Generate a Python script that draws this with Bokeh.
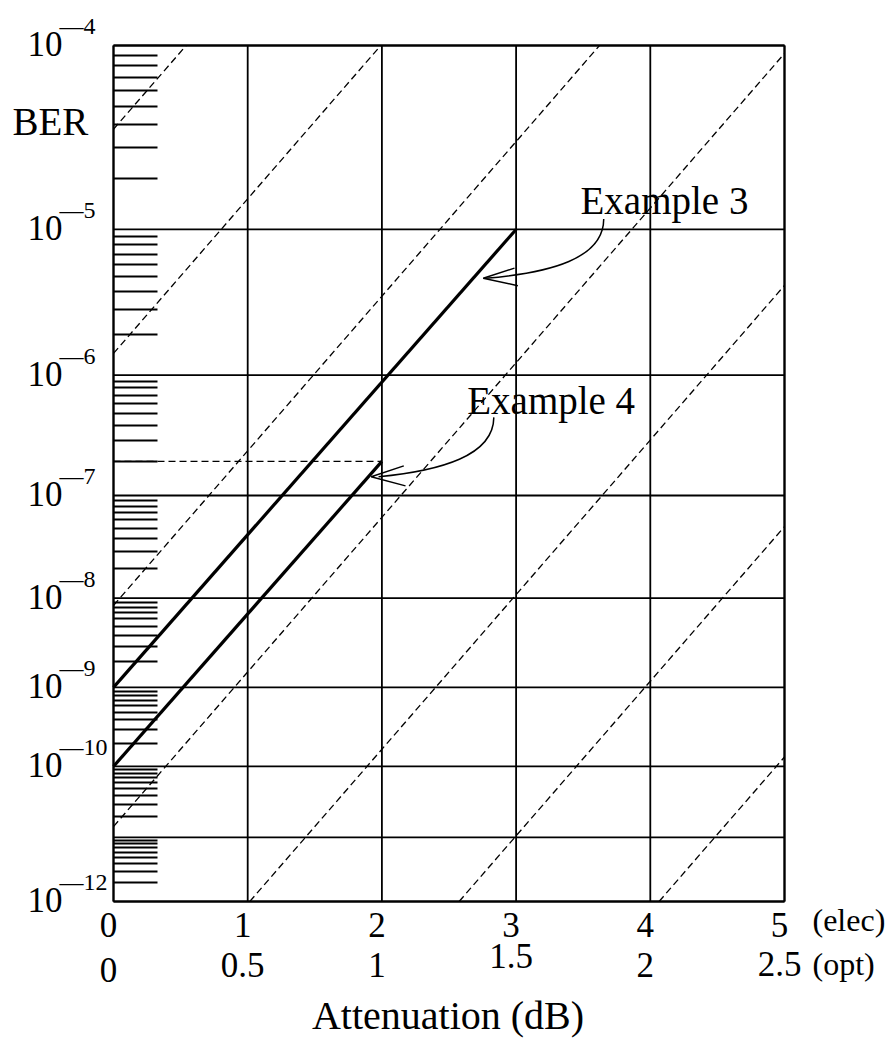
import math
from bokeh.plotting import figure
from bokeh.models import Range1d, FixedTicker, Label, LinearAxis
from bokeh.embed import file_html
from bokeh.resources import INLINE

# ---------------- data ----------------
ber_decades = [1e-4, 1e-5, 1e-6, 1e-7, 1e-8, 1e-9, 1e-10, 1e-11, 1e-12]
ber_label_values = [1e-4, 1e-5, 1e-6, 1e-7, 1e-8, 1e-9, 1e-10, 1e-12]
ber_label_exponents = ["4", "5", "6", "7", "8", "9", "10", "12"]
minor_mantissas = [2, 3, 4, 5, 6, 7, 8, 9]
minor_exponents = [-12, -11, -10, -9, -8, -7, -6, -5]

elec_ticks = [0, 1, 2, 3, 4, 5]
elec_labels = ["0", "1", "2", "3", "4", "5"]
opt_labels = ["0", "0.5", "1", "1.5", "2", "2.5"]

example3_atten = [0, 3]
example3_ber = [1e-9, 1e-5]
example4_atten = [0, 2]
example4_ber = [1e-10, 2e-7]

# dashed guide lines (slope -1 dB per dB): Q (dB) at zero attenuation
guide_q_db_at_zero = [11.95, 13.40, 15.03, 16.46, 17.96, 19.52, 21.01]

# annotation anchors (attenuation dB, BER)
ex3_text = (3.48, 1.24e-5)
ex3_curve = [(3.653, 1.16e-5), (3.651, 6.53e-6), (3.256, 5.30e-6), (2.772, 4.87e-6)]
ex3_head = [(2.988, 5.68e-6), (2.755, 4.87e-6), (3.013, 4.35e-6)]
ex4_text = (2.636, 4.96e-7)
ex4_curve = [(2.834, 4.66e-7), (2.832, 2.23e-7), (2.437, 1.66e-7), (1.975, 1.47e-7)]
ex4_head = [(2.163, 1.83e-7), (1.920, 1.47e-7), (2.176, 1.22e-7)]

# ---------------- scale: BER paper (Q in dB) ----------------
def q_of_ber(ber):
    lo, hi = 0.0, 12.0
    for _ in range(200):
        mid = 0.5 * (lo + hi)
        if 0.5 * math.erfc(mid / math.sqrt(2.0)) > ber:
            lo = mid
        else:
            hi = mid
    return 0.5 * (lo + hi)

def yv(ber):
    return -20.0 * math.log10(q_of_ber(ber))

y_top = yv(ber_decades[0])
y_bot = yv(ber_decades[-1])
x_lo, x_hi = elec_ticks[0], elec_ticks[-1]

# layout of the chart box inside the canvas (pixels)
W, H = 893, 1040
BOX_L, BOX_T, BOX_W, BOX_H = 113, 45, 671, 856
sx = BOX_W / (x_hi - x_lo)
sy = BOX_H / (y_top - y_bot)
x_range = Range1d(x_lo - BOX_L / sx, x_lo + (W - BOX_L) / sx)
y_range = Range1d(y_top - (H - BOX_T) / sy, y_top + BOX_T / sy)

FONT = "Liberation Serif"

p = figure(width=W, height=H, x_range=x_range, y_range=y_range,
           output_backend="svg", toolbar_location=None,
           min_border_left=0, min_border_right=0,
           min_border_top=0, min_border_bottom=0)
p.background_fill_color = "white"
p.border_fill_color = "white"
p.outline_line_color = None
p.xgrid.visible = False
p.ygrid.visible = False

# axes placed on the box edges
p.xaxis.ticker = FixedTicker(ticks=[])
p.xaxis.fixed_location = y_bot
p.xaxis.bounds = (x_lo, x_hi)
p.xaxis.axis_line_width = 2
p.xaxis.axis_line_color = "black"
p.xaxis.major_tick_line_color = None
p.xaxis.minor_tick_line_color = None

minor_vals = [yv(m * 10.0 ** k) for k in minor_exponents for m in minor_mantissas]
p.yaxis.ticker = FixedTicker(ticks=[], minor_ticks=minor_vals)
p.yaxis.fixed_location = x_lo
p.yaxis.bounds = (y_bot, y_top)
p.yaxis.axis_line_width = 2
p.yaxis.axis_line_color = "black"
p.yaxis.major_tick_line_color = None
p.yaxis.minor_tick_in = 44
p.yaxis.minor_tick_out = 0
p.yaxis.minor_tick_line_width = 2
p.yaxis.minor_tick_line_color = "black"

for loc, fixed, bnds in (("right", x_hi, (y_bot, y_top)), ("above", y_top, (x_lo, x_hi))):
    ax = LinearAxis(ticker=FixedTicker(ticks=[]), fixed_location=fixed, bounds=bnds,
                    axis_line_width=2, axis_line_color="black",
                    major_tick_line_color=None, minor_tick_line_color=None)
    p.add_layout(ax, loc)

# grid lines at decades and at each attenuation tick
gy = [yv(b) for b in ber_decades]
p.segment(x0=[x_lo] * len(gy), y0=gy, x1=[x_hi] * len(gy), y1=gy,
          line_color="black", line_width=1.8)
p.segment(x0=elec_ticks, y0=[y_bot] * len(elec_ticks), x1=elec_ticks,
          y1=[y_top] * len(elec_ticks), line_color="black", line_width=1.8)

# dashed guides
gxs, gys = [], []
for c in guide_q_db_at_zero:
    x0 = max(x_lo, c + y_bot)
    x1 = min(x_hi, c + y_top)
    gxs.append([x0, x1])
    gys.append([x0 - c, x1 - c])
p.multi_line(gxs, gys, line_color="black", line_width=1.3, line_dash="7 4")

# horizontal reference for example 4 end point
p.line([x_lo, example4_atten[-1]], [yv(example4_ber[-1])] * 2,
       line_color="black", line_width=1.3, line_dash="7 4")

# example lines
p.line(example3_atten, [yv(b) for b in example3_ber], line_color="black", line_width=3.2)
p.line(example4_atten, [yv(b) for b in example4_ber], line_color="black", line_width=3.2)

# annotation curves + open arrow heads
for curve, head in ((ex3_curve, ex3_head), (ex4_curve, ex4_head)):
    (a0, b0), (a1, b1), (a2, b2), (a3, b3) = curve
    p.bezier(x0=[a0], y0=[yv(b0)], cx0=[a1], cy0=[yv(b1)],
             cx1=[a2], cy1=[yv(b2)], x1=[a3], y1=[yv(b3)],
             line_color="black", line_width=1.5)
    p.line([h[0] for h in head], [yv(h[1]) for h in head],
           line_color="black", line_width=1.5)

def label(x, y, text, size, align="left", xo=0, yo=0):
    # offsets are for the text's alphabetic baseline; Bokeh's box placement
    # sits ~0.35 em lower, so compensate
    px = float(size[:-2])
    p.add_layout(Label(x=x, y=y, text=text, text_font=FONT,
                       text_font_size=size, text_align=align,
                       text_baseline="alphabetic", text_color="black",
                       x_offset=xo, y_offset=yo + 0.35 * px))

# left tick labels: 10 with superscript exponent
for b, e in zip(ber_label_values, ber_label_exponents):
    label(x_lo, yv(b), "10", "35px", "right", -51, -11)
    label(x_lo, yv(b), "\u2014" + e, "24px", "left", -54, 11)
label(x_lo, y_top, "BER", "39px", "left", -101, -90)

# bottom tick labels
opt_dy = [-81, -76, -76, -67, -76, -75]
for xt, te, to, dy in zip(elec_ticks, elec_labels, opt_labels, opt_dy):
    label(xt, y_bot, te, "35px", "center", -5, -36)
    label(xt, y_bot, to, "35px", "center", -5, dy)
label(x_hi, y_bot, "(elec)", "32px", "left", 28, -30)
label(x_hi, y_bot, "(opt)", "32px", "left", 28, -74)
label((x_lo + x_hi) / 2, y_bot, "Attenuation (dB)", "40px", "center", -1, -128)

# example labels
label(ex3_text[0], yv(ex3_text[1]), "Example 3", "39px")
label(ex4_text[0], yv(ex4_text[1]), "Example 4", "39px")

open("out.html", "w").write(file_html(p, INLINE))
